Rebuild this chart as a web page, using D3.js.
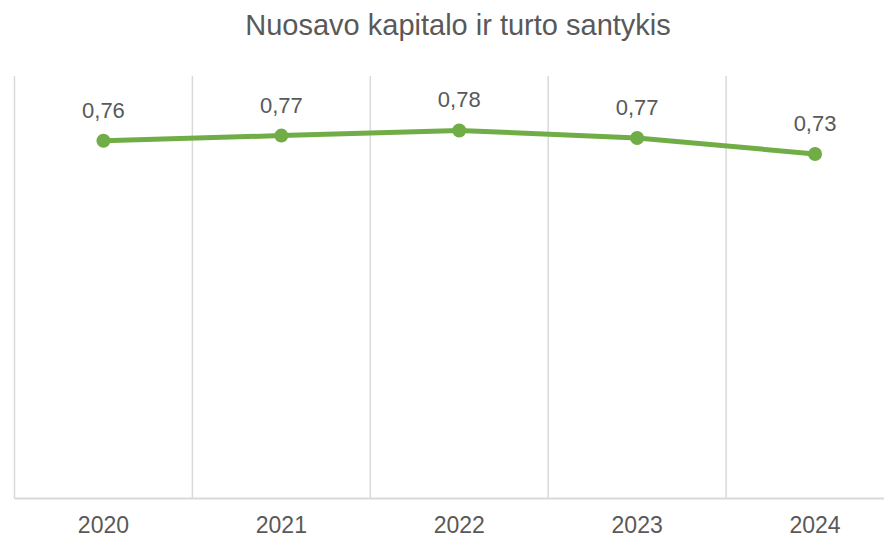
<!DOCTYPE html>
<html>
<head>
<meta charset="utf-8">
<script src="https://cdn.jsdelivr.net/npm/d3@7"></script>
<style>
  body { margin: 0; background: #fff; }
  text { font-family: "Liberation Sans", Arial, sans-serif; fill: #595959; }
</style>
</head>
<body>
<svg id="chart" width="884" height="540"></svg>
<script>
// data
var years = ["2020", "2021", "2022", "2023", "2024"];
var ratio = [0.762, 0.773, 0.784, 0.768, 0.734];
var labels = ["0,76", "0,77", "0,78", "0,77", "0,73"];
var title = "Nuosavo kapitalo ir turto santykis";

var width = 884, height = 540;
var plot = { left: 14.5, right: 904, top: 76, bottom: 498.5 };

var svg = d3.select("#chart");

// X Scale
var x = d3.scaleBand()
    .domain(years)
    .range([plot.left, plot.right]);

// Y Scale
var y = d3.scaleLinear()
    .domain([0, 0.9])
    .range([plot.bottom, plot.top]);

// Title
svg.append("text")
    .attr("x", 458)
    .attr("y", 35)
    .attr("text-anchor", "middle")
    .attr("font-size", "29px")
    .text(title);

// vertical gridlines (category boundaries)
svg.append("g")
    .selectAll("line")
    .data(years)
    .enter()
    .append("line")
        .attr("x1", function(d){ return x(d); })
        .attr("x2", function(d){ return x(d); })
        .attr("y1", plot.top)
        .attr("y2", plot.bottom)
        .attr("stroke", "#d9d9d9")
        .attr("stroke-width", 1.5);

// X Axis
var xAxisCall = d3.axisBottom(x).tickSize(0).tickPadding(18);
var xAxis = svg.append("g")
    .attr("class", "x axis")
    .attr("transform", "translate(0," + plot.bottom + ")")
    .call(xAxisCall);
xAxis.select(".domain")
    .attr("d", "M" + plot.left + ",0H" + width)
    .attr("stroke", "#d9d9d9")
    .attr("stroke-width", 2);
xAxis.selectAll("text")
    .attr("font-size", "23px")
    .attr("font-family", "'Liberation Sans', Arial, sans-serif")
    .attr("fill", "#595959");

var cx = function(d, i){ return x(years[i]) + x.bandwidth() / 2; };

// Line
var line = d3.line()
    .x(function(d, i){ return cx(d, i); })
    .y(function(d){ return y(d); });

svg.append("path")
    .datum(ratio)
    .attr("d", line)
    .attr("fill", "none")
    .attr("stroke", "#70ad47")
    .attr("stroke-width", 5)
    .attr("stroke-linejoin", "round");

// Points
svg.selectAll("circle.pt")
    .data(ratio)
    .enter()
    .append("circle")
        .attr("class", "pt")
        .attr("cx", cx)
        .attr("cy", function(d){ return y(d); })
        .attr("r", 7)
        .attr("fill", "#70ad47");

// Value labels
svg.selectAll("text.lbl")
    .data(ratio)
    .enter()
    .append("text")
        .attr("class", "lbl")
        .attr("x", cx)
        .attr("y", function(d){ return y(d) - 23; })
        .attr("text-anchor", "middle")
        .attr("font-size", "22px")
        .text(function(d, i){ return labels[i]; });
</script>
</body>
</html>
